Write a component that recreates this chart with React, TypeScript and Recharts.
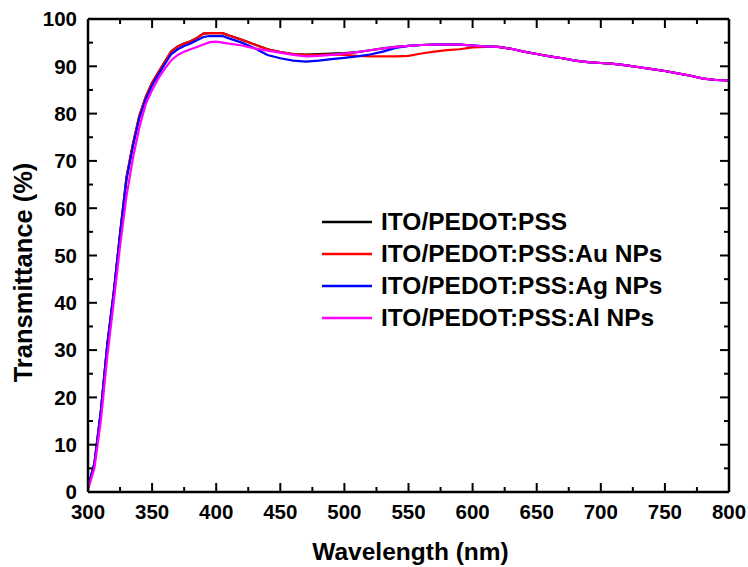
import React from 'react';
import { LineChart, Line, XAxis, YAxis, Legend } from 'recharts';

const wavelengths = [
  300, 305, 310, 315, 320, 325, 330, 335, 340, 345, 350, 355, 360, 365, 370, 375, 380, 385, 390, 395, 400, 405, 410,
  420, 430, 440, 450, 460, 470, 480, 490, 500, 510, 520, 530, 540, 550, 560, 570, 580, 590, 600, 610, 620, 630, 640,
  650, 660, 670, 680, 690, 700, 710, 720, 730, 740, 750, 760, 770, 780, 790, 800,
];

const pedotPss = [
  1, 6, 17, 31, 42, 54.5, 66.5, 73.5, 79.5, 83.5, 86.5, 88.8, 91, 93.2, 94.2, 94.8, 95.3, 96, 96.9, 97, 97, 97, 96.5,
  95.6, 94.6, 93.6, 93, 92.6, 92.5, 92.6, 92.7, 92.8, 93, 93.4, 93.8, 94.1, 94.3, 94.5, 94.6, 94.6, 94.6, 94.4, 94.2, 94.1, 93.7, 93.1,
  92.6, 92.1, 91.7, 91.2, 90.9, 90.7, 90.5, 90.2, 89.8, 89.4, 89, 88.5, 88, 87.4, 87.1, 87,
];

const auNPs = [
  1, 6, 17, 31, 42, 54.5, 66.5, 73.5, 79.5, 83.5, 86.5, 88.8, 91, 93.2, 94.2, 94.8, 95.3, 96, 96.9, 97, 97, 97, 96.5,
  95.6, 94.6, 93.6, 93, 92.6, 92.4, 92.4, 92.5, 92.4, 92.2, 92.1, 92.1, 92.1, 92.2, 92.7, 93.1, 93.4, 93.6, 94, 94.1, 94.1, 93.7, 93.1,
  92.6, 92.1, 91.7, 91.2, 90.9, 90.7, 90.5, 90.2, 89.8, 89.4, 89, 88.5, 88, 87.4, 87.1, 87,
];

const agNPs = [
  1, 6, 17, 31, 42, 54.5, 66, 73, 79, 83, 86, 88.3, 90.5, 92.6, 93.6, 94.3, 94.8, 95.5, 96.2, 96.4, 96.4, 96.4, 95.9,
  95, 93.8, 92.4, 91.7, 91.2, 91, 91.2, 91.5, 91.8, 92.1, 92.5, 93.1, 93.9, 94.3, 94.5, 94.6, 94.6, 94.6, 94.4, 94.2, 94.1, 93.7, 93.1,
  92.6, 92.1, 91.7, 91.2, 90.9, 90.7, 90.5, 90.2, 89.8, 89.4, 89, 88.5, 88, 87.4, 87.1, 87,
];

const alNPs = [
  0.5, 5, 15, 28.5, 40, 52, 62.5, 70.5, 77, 82, 85, 87.5, 89.5, 91.3, 92.4, 93.1, 93.6, 94.1, 94.6, 95.1, 95.2, 95, 94.8,
  94.4, 93.8, 93.3, 92.9, 92.4, 92.1, 92.2, 92.4, 92.7, 93, 93.4, 93.8, 94.1, 94.3, 94.5, 94.6, 94.6, 94.6, 94.4, 94.2, 94.1, 93.7, 93.1,
  92.6, 92.1, 91.7, 91.2, 90.9, 90.7, 90.5, 90.2, 89.8, 89.4, 89, 88.5, 88, 87.4, 87.1, 87,
];

const xTicks = [300, 325, 350, 375, 400, 425, 450, 475, 500, 525, 550, 575, 600, 625, 650, 675, 700, 725, 750, 775, 800];
const yTicks = [0, 5, 10, 15, 20, 25, 30, 35, 40, 45, 50, 55, 60, 65, 70, 75, 80, 85, 90, 95, 100];
const xMajorStep = 50;
const yMajorStep = 10;

const seriesNames = ['ITO/PEDOT:PSS', 'ITO/PEDOT:PSS:Au NPs', 'ITO/PEDOT:PSS:Ag NPs', 'ITO/PEDOT:PSS:Al NPs'];
const seriesKeys = ['pedot', 'au', 'ag', 'al'];
const seriesColors = ['#000000', '#ff0000', '#0000ff', '#ff00ff'];

const data = wavelengths.map((wl, i) => ({
  wl,
  pedot: pedotPss[i],
  au: auNPs[i],
  ag: agNPs[i],
  al: alNPs[i],
}));

const FONT = '"Liberation Sans", Arial, sans-serif';
const TICK_FONT = 20.5;
const MARGIN_X = 12;
const MARGIN_Y = 11;
const MAJOR = 9;
const MINOR = 5;

const BottomTick = (props: any) => {
  const { x, y, payload } = props;
  const v = payload.value;
  const major = v % xMajorStep === 0;
  const axisY = y - MARGIN_X;
  return (
    <g>
      <line x1={x} x2={x} y1={axisY} y2={axisY - (major ? MAJOR : MINOR)} stroke="#000" strokeWidth={2} />
      {major && (
        <text x={x} y={y} dy="0.72em" textAnchor="middle" fontFamily={FONT} fontWeight="bold" fontSize={TICK_FONT} fill="#000">
          {v}
        </text>
      )}
    </g>
  );
};

const TopTick = (props: any) => {
  const { x, y, payload } = props;
  const major = payload.value % xMajorStep === 0;
  return <line x1={x} x2={x} y1={y} y2={y + (major ? MAJOR : MINOR)} stroke="#000" strokeWidth={2} />;
};

const LeftTick = (props: any) => {
  const { x, y, payload } = props;
  const v = payload.value;
  const major = v % yMajorStep === 0;
  const axisX = x + MARGIN_Y;
  return (
    <g>
      <line x1={axisX} x2={axisX + (major ? MAJOR : MINOR)} y1={y} y2={y} stroke="#000" strokeWidth={2} />
      {major && (
        <text x={x} y={y} dy="0.36em" textAnchor="end" fontFamily={FONT} fontWeight="bold" fontSize={TICK_FONT} fill="#000">
          {v}
        </text>
      )}
    </g>
  );
};

const RightTick = (props: any) => {
  const { x, y, payload } = props;
  const major = payload.value % yMajorStep === 0;
  return <line x1={x} x2={x - (major ? MAJOR : MINOR)} y1={y} y2={y} stroke="#000" strokeWidth={2} />;
};

const XTitle = (props: any) => {
  const vb = props.viewBox;
  return (
    <text x={vb.x + vb.width / 2 + 2} y={vb.y + 68} textAnchor="middle" fontFamily={FONT} fontWeight="bold" fontSize={24.5} fill="#000">
      Wavelength (nm)
    </text>
  );
};

const YTitle = (props: any) => {
  const vb = props.viewBox;
  const cx = vb.x + 23;
  const cy = vb.y + vb.height / 2 + 17;
  return (
    <text
      x={cx}
      y={cy}
      transform={`rotate(-90 ${cx} ${cy})`}
      textAnchor="middle"
      dominantBaseline="central"
      fontFamily={FONT}
      fontWeight="bold"
      fontSize={25.5}
      fill="#000"
    >
      Transmittance (%)
    </text>
  );
};

const LegendContent = () => (
  <div style={{ fontFamily: FONT, fontWeight: 'bold', fontSize: 24.5, color: '#000' }}>
    {seriesNames.map((name, i) => (
      <div key={name} style={{ display: 'flex', alignItems: 'center', height: 32 }}>
        <svg width={50} height={4} style={{ marginRight: 9 }}>
          <line x1={0} x2={50} y1={2} y2={2} stroke={seriesColors[i]} strokeWidth={2.5} />
        </svg>
        <span>{name}</span>
      </div>
    ))}
  </div>
);

export default function App() {
  return (
    <div style={{ position: 'absolute', left: 0, top: 0, background: '#fff' }}>
      <LineChart width={748} height={567} data={data} margin={{ top: 18, right: 18, bottom: 0, left: 0 }}>
        <XAxis
          xAxisId="b"
          dataKey="wl"
          type="number"
          domain={[300, 800]}
          ticks={xTicks}
          interval={0}
          allowDataOverflow
          height={75}
          tickSize={0}
          tickMargin={MARGIN_X}
          tick={<BottomTick />}
          axisLine={{ stroke: '#000', strokeWidth: 2.5 }}
          label={<XTitle />}
        />
        <XAxis
          xAxisId="t"
          dataKey="wl"
          orientation="top"
          type="number"
          domain={[300, 800]}
          ticks={xTicks}
          interval={0}
          allowDataOverflow
          height={1}
          tickSize={0}
          tickMargin={0}
          tick={<TopTick />}
          axisLine={{ stroke: '#000', strokeWidth: 2.5 }}
        />
        <YAxis
          yAxisId="l"
          type="number"
          domain={[0, 100]}
          ticks={yTicks}
          interval={0}
          allowDataOverflow
          width={88}
          tickSize={0}
          tickMargin={MARGIN_Y}
          tick={<LeftTick />}
          axisLine={{ stroke: '#000', strokeWidth: 2.5 }}
          label={<YTitle />}
        />
        <YAxis
          yAxisId="r"
          orientation="right"
          type="number"
          domain={[0, 100]}
          ticks={yTicks}
          interval={0}
          allowDataOverflow
          width={1}
          tickSize={0}
          tickMargin={0}
          tick={<RightTick />}
          axisLine={{ stroke: '#000', strokeWidth: 2.5 }}
        />
        <Legend
          layout="vertical"
          align="center"
          verticalAlign="middle"
          content={<LegendContent />}
          wrapperStyle={{ position: 'absolute', left: 322, top: 206, width: 'auto' }}
        />
        <Line
          xAxisId="t"
          yAxisId="r"
          type="linear"
          dataKey="al"
          stroke="none"
          strokeWidth={0}
          dot={false}
          activeDot={false}
          legendType="none"
          isAnimationActive={false}
        />
        {seriesKeys.map((k, i) => (
          <Line
            key={k}
            xAxisId="b"
            yAxisId="l"
            type="linear"
            dataKey={k}
            name={seriesNames[i]}
            stroke={seriesColors[i]}
            strokeWidth={2.2}
            dot={false}
            activeDot={false}
            isAnimationActive={false}
          />
        ))}
      </LineChart>
    </div>
  );
}
